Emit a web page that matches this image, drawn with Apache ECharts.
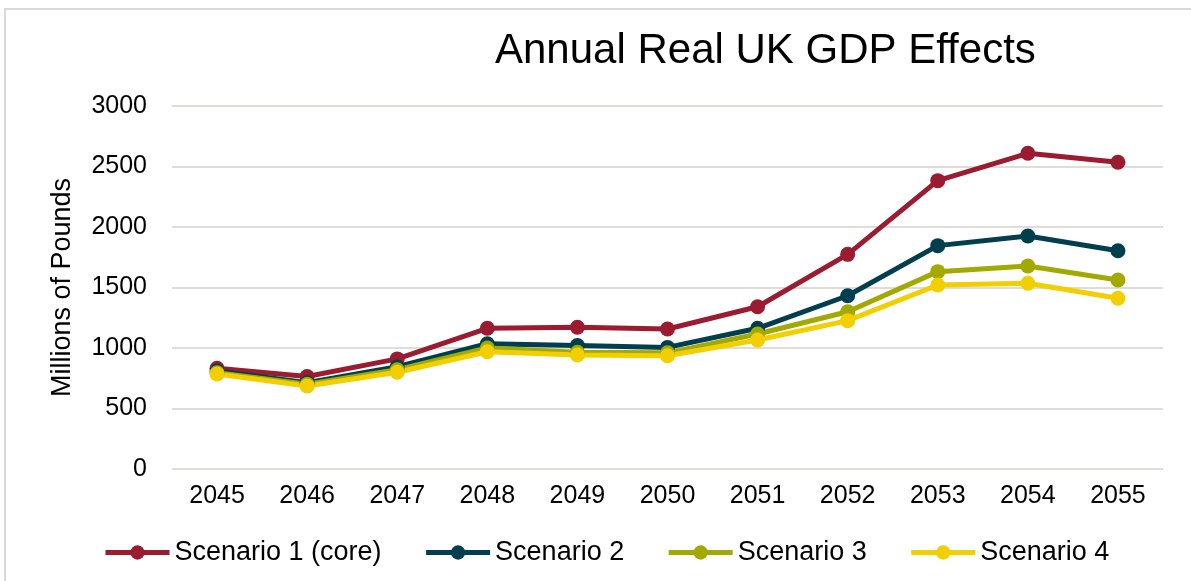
<!DOCTYPE html>
<html>
<head>
<meta charset="utf-8">
<script src="https://cdn.jsdelivr.net/npm/echarts@6/dist/echarts.min.js"></script>
<style>
  html, body { margin: 0; padding: 0; background: #fff; }
  #chart { width: 1191px; height: 581px; }
</style>
</head>
<body>
<div id="chart"></div>
<script>
// Years on the category axis
const years = ['2045', '2046', '2047', '2048', '2049', '2050', '2051', '2052', '2053', '2054', '2055'];

// Annual real GDP effect, millions of pounds
const scenario1 = [832, 765, 910, 1163, 1171, 1157, 1341, 1774, 2383, 2609, 2535];
const scenario2 = [810, 713, 845, 1035, 1020, 1005, 1163, 1432, 1846, 1926, 1804];
const scenario3 = [795, 700, 820, 1000, 965, 960, 1116, 1300, 1631, 1678, 1562];
const scenario4 = [785, 686, 800, 969, 942, 936, 1066, 1226, 1521, 1535, 1411];

const seriesNames = ['Scenario 1 (core)', 'Scenario 2', 'Scenario 3', 'Scenario 4'];
const seriesColors = ['#9B1C31', '#023F4E', '#A2AA00', '#F2CF00'];
const seriesValues = [scenario1, scenario2, scenario3, scenario4];

const FONT = '"Liberation Sans", Arial, sans-serif';

const chart = echarts.init(document.getElementById('chart'), null, { renderer: 'canvas' });

chart.setOption({
  backgroundColor: '#ffffff',
  animation: false,
  title: {
    text: 'Annual Real UK GDP Effects',
    left: 490,
    top: 25,
    textStyle: { fontFamily: FONT, fontSize: 42, fontWeight: 'normal', color: '#000' }
  },
  graphic: [{
    type: 'rect',
    shape: { x: 5, y: 9, width: 1300, height: 700 },
    style: { fill: 'none', stroke: '#d9d9d9', lineWidth: 2 },
    silent: true,
    z: 100
  }],
  legend: {
    left: 98,
    top: 534,
    itemWidth: 64,
    itemHeight: 18,
    itemGap: 42,
    lineStyle: { width: 5 },
    textStyle: { fontFamily: FONT, fontSize: 27, color: '#000' },
    data: seriesNames
  },
  grid: {
    left: 172,
    right: 28,
    top: 106,
    bottom: 112,
    containLabel: false
  },
  xAxis: {
    type: 'category',
    data: years,
    boundaryGap: true,
    axisLine: { show: false },
    axisTick: { show: false },
    axisLabel: {
      margin: 15,
      fontFamily: FONT,
      fontSize: 25,
      color: '#000'
    },
    splitLine: { show: false }
  },
  yAxis: {
    type: 'value',
    min: 0,
    max: 3000,
    interval: 500,
    name: 'Millions of Pounds',
    nameLocation: 'middle',
    nameGap: 96,
    nameTextStyle: { fontFamily: FONT, fontSize: 27, color: '#000' },
    axisLine: { show: false },
    axisTick: { show: false },
    axisLabel: {
      margin: 25,
      fontFamily: FONT,
      fontSize: 25,
      color: '#000',
      formatter: (v) => String(v)
    },
    splitLine: { lineStyle: { color: '#e0dcd8', width: 2 } }
  },
  series: seriesValues.map((vals, i) => ({
    name: seriesNames[i],
    type: 'line',
    data: vals,
    symbol: 'circle',
    symbolSize: 15,
    showSymbol: true,
    color: seriesColors[i],
    lineStyle: { width: 5, color: seriesColors[i] },
    itemStyle: { color: seriesColors[i] }
  }))
});
</script>
</body>
</html>
